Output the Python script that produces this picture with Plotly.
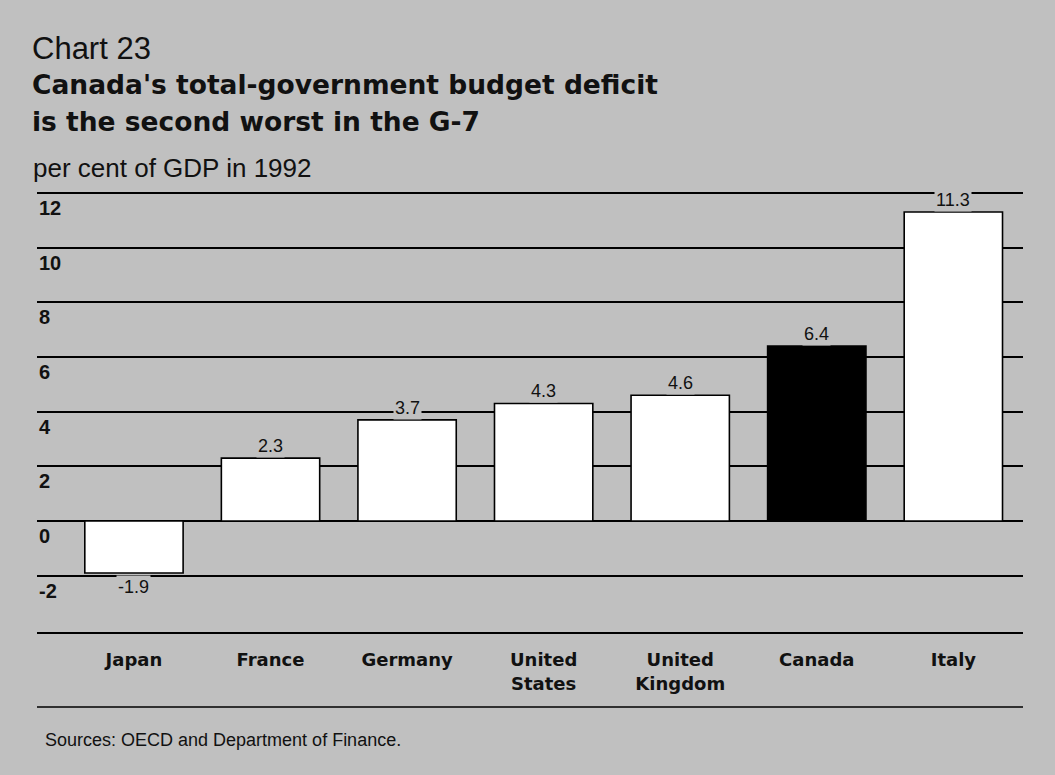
import plotly.graph_objects as go

# Total-government budget balance (deficit), per cent of GDP, 1992
countries = ["Japan", "France", "Germany", "United<br>States", "United<br>Kingdom", "Canada", "Italy"]
deficit = [-1.9, 2.3, 3.7, 4.3, 4.6, 6.4, 11.3]
bar_colors = ["white", "white", "white", "white", "white", "black", "white"]
y_ticks = [12, 10, 8, 6, 4, 2, 0, -2]

BG = "#c0c0c0"
SANS = "Liberation Sans, Arial, Helvetica, sans-serif"
WIDE = "DejaVu Sans, Verdana, sans-serif"
W, H = 1055, 775

# plot area in pixels
x0_px, x1_px = 37, 1023
y_top_val, y_bot_val = 12.2, -4.06
px_per_unit = 27.34
zero_px = 521
top_px = zero_px - y_top_val * px_per_unit
bottom_px = zero_px - y_bot_val * px_per_unit

x_pos = list(range(len(countries)))

fig = go.Figure()
fig.add_trace(go.Bar(
    x=x_pos,
    y=deficit,
    width=0.72,
    marker=dict(color=bar_colors, line=dict(color="black", width=1.6)),
    hoverinfo="skip",
))

annotations = []

# value labels just beyond the end of each bar
for xi, v in zip(x_pos, deficit):
    annotations.append(dict(
        x=xi, y=v, xref="x", yref="y",
        text=f"{v:.1f}", showarrow=False,
        yshift=12 if v >= 0 else -14,
        font=dict(family=SANS, size=18, color="#111"),
        bgcolor=BG, borderpad=1,
    ))

# y tick labels sit just under their gridlines at the left edge
for t in y_ticks:
    annotations.append(dict(
        x=x0_px / W, y=t, xref="paper", yref="y",
        xanchor="left", yanchor="top",
        text=f"<b>{t}</b>", showarrow=False, yshift=-2,
        font=dict(family=SANS, size=20, color="#111"),
    ))

# titles and source note
def text_at(x, top, text, family, size):
    return dict(x=x / W, y=1 - top / H, xref="paper", yref="paper",
                xanchor="left", yanchor="top", align="left",
                text=text, showarrow=False,
                font=dict(family=family, size=size, color="#111"))

annotations += [
    text_at(30, 29, "Chart 23", SANS, 31),
    text_at(30, 67, "<b>Canada's total-government budget deficit</b>", WIDE, 26.5),
    text_at(30, 104, "<b>is the second worst in the G-7</b>", WIDE, 26.5),
    text_at(31, 151, "per cent of GDP in 1992", SANS, 26),
    text_at(43, 728, "Sources: OECD and Department of Finance.", SANS, 18),
]

shapes = [
    # line closing the category-label band
    dict(type="line", xref="paper", yref="paper",
         x0=x0_px / W, x1=x1_px / W, y0=1 - 707 / H, y1=1 - 707 / H,
         line=dict(color="black", width=1.6)),
]

fig.update_layout(
    width=W, height=H,
    margin=dict(l=0, r=0, t=0, b=0),
    paper_bgcolor=BG, plot_bgcolor=BG,
    showlegend=False,
    annotations=annotations,
    shapes=shapes,
    xaxis=dict(
        domain=[x0_px / W, x1_px / W],
        range=[-0.71, 6.51],
        tickmode="array", tickvals=x_pos,
        ticktext=[f"<b>{c}</b>" for c in countries],
        showgrid=False, zeroline=False,
        showline=True, linecolor="black", linewidth=1.6,
        ticks="", ticklabelstandoff=11,
        tickfont=dict(family=WIDE, size=18, color="#111"),
    ),
    yaxis=dict(
        domain=[1 - bottom_px / H, 1 - top_px / H],
        range=[y_bot_val, y_top_val],
        tickmode="array", tickvals=y_ticks,
        showticklabels=False,
        showgrid=True, gridcolor="black", gridwidth=1.6,
        zeroline=False, showline=False,
    ),
)

fig.write_html("out.html")
